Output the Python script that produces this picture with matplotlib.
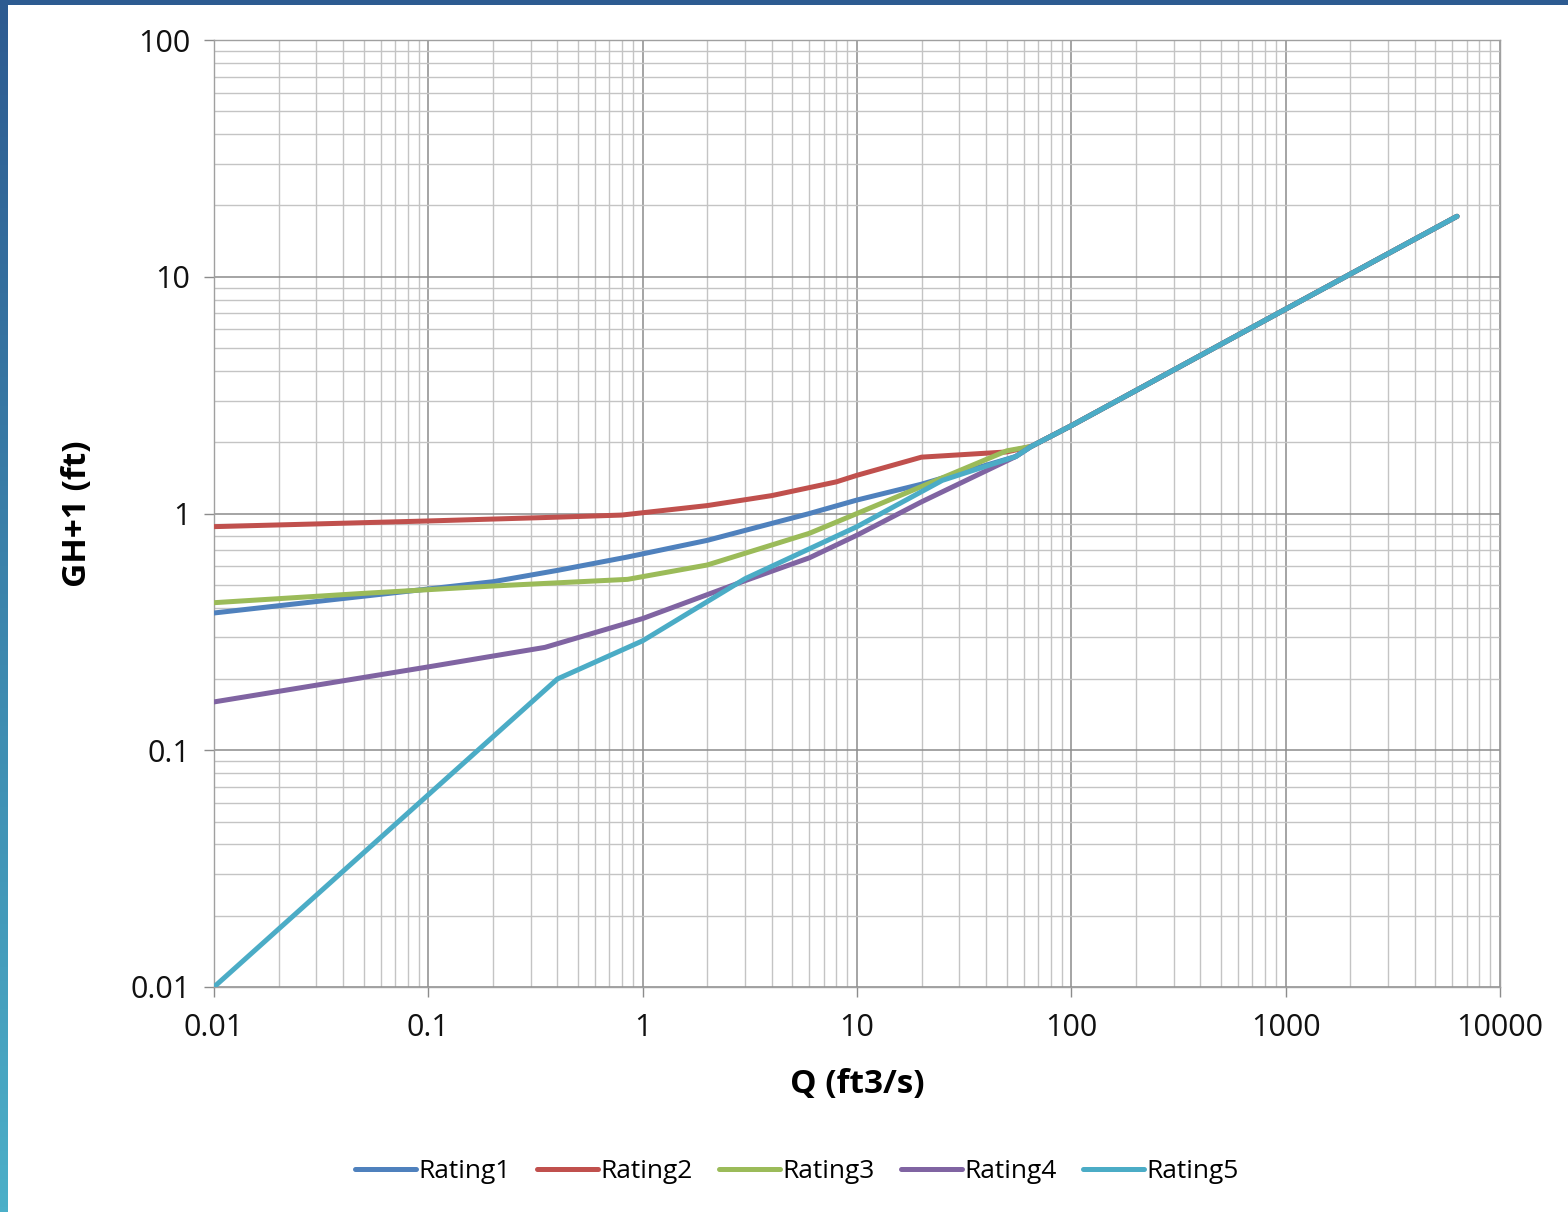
import numpy as np
import matplotlib
matplotlib.use("Agg")
import matplotlib.pyplot as plt
from matplotlib.patches import Rectangle
from matplotlib.colors import LinearSegmentedColormap
from matplotlib.ticker import FixedLocator, LogLocator, NullFormatter

plt.rcParams['font.family'] = ['Open Sans', 'DejaVu Sans']

# rating curves (Q in ft3/s, GH+1 in ft)
q_r1 = [0.01, 0.1, 0.2, 0.4, 0.85, 2, 6, 10, 20, 55, 65]
h_r1 = [0.38, 0.48, 0.515, 0.575, 0.655, 0.77, 1.0, 1.14, 1.33, 1.74, 1.92]

q_r2 = [0.01, 0.1, 0.4, 0.8, 2, 4, 8, 10, 20, 50, 65]
h_r2 = [0.88, 0.93, 0.965, 0.985, 1.08, 1.19, 1.36, 1.45, 1.73, 1.82, 1.92]

q_r3 = [0.01, 0.05, 0.2, 0.85, 2, 4, 6, 10, 20, 50, 65]
h_r3 = [0.42, 0.46, 0.494, 0.527, 0.606, 0.736, 0.825, 1.0, 1.3, 1.84, 1.92]

q_r4 = [0.01, 0.1, 0.35, 1, 3, 6, 10, 20, 55, 65]
h_r4 = [0.16, 0.225, 0.272, 0.36, 0.52, 0.65, 0.81, 1.12, 1.74, 1.92]

q_r5 = [0.01, 0.4, 1, 3, 10, 25, 55, 65]
h_r5 = [0.01, 0.2, 0.29, 0.53, 0.88, 1.38, 1.74, 1.92]

# shared upper segment
q_top = [65, 100, 1000, 6300]
h_top = [1.92, 2.35, 7.3, 18]

names = ["Rating1", "Rating2", "Rating3", "Rating4", "Rating5"]
colors = ["#4F81BD", "#C0504D", "#9BBB59", "#8064A2", "#4BACC6"]
x_ticks = [0.01, 0.1, 1, 10, 100, 1000, 10000]
x_labels = ["0.01", "0.1", "1", "10", "100", "1000", "10000"]
y_ticks = [0.01, 0.1, 1, 10, 100]
y_labels = ["0.01", "0.1", "1", "10", "100"]

fig = plt.figure(figsize=(15.68, 12.12), dpi=100)

# frame decorations (slide border)
fig.patches.append(Rectangle((0, 1 - 5 / 1212), 1, 5 / 1212, transform=fig.transFigure,
                             facecolor="#2D5B91", edgecolor="none", zorder=0))
band = fig.add_axes([0, 0, 8 / 1568, 1 - 5 / 1212])
grad = np.linspace(0, 1, 256).reshape(-1, 1)
cmap = LinearSegmentedColormap.from_list("band", ["#2D5B91", "#4BAFC8"])
band.imshow(grad, aspect="auto", cmap=cmap)
band.axis("off")

ax = fig.add_axes([214 / 1568, 1 - 987 / 1212, (1500 - 214) / 1568, (987 - 40) / 1212])

curves = [(q_r1, h_r1), (q_r2, h_r2), (q_r3, h_r3), (q_r4, h_r4), (q_r5, h_r5)]
for (q, h), name, c in zip(curves, names, colors):
    ax.plot(q + q_top[1:], h + h_top[1:], color=c, lw=3.6, label=name,
            solid_capstyle="round", solid_joinstyle="round", zorder=3)

ax.set_xscale("log")
ax.set_yscale("log")
ax.set_xlim(0.01, 10000)
ax.set_ylim(0.01, 100)

ax.xaxis.set_major_locator(FixedLocator(x_ticks))
ax.set_xticklabels(x_labels)
ax.yaxis.set_major_locator(FixedLocator(y_ticks))
ax.set_yticklabels(y_labels)
ax.xaxis.set_minor_locator(LogLocator(base=10, subs=np.arange(2, 10), numticks=20))
ax.yaxis.set_minor_locator(LogLocator(base=10, subs=np.arange(2, 10), numticks=20))
ax.xaxis.set_minor_formatter(NullFormatter())
ax.yaxis.set_minor_formatter(NullFormatter())

ax.grid(which="major", color="#8C8C8C", lw=1.1, zorder=0)
ax.grid(which="minor", color="#C4C4C4", lw=1.0, zorder=0)
ax.set_axisbelow(True)

ax.tick_params(which="major", direction="out", length=7, width=1, color="#8C8C8C",
               labelsize=22, labelcolor="#111111")
ax.tick_params(axis="x", which="major", pad=12)
ax.tick_params(axis="y", which="major", pad=10)
ax.tick_params(which="minor", length=0)
for s in ax.spines.values():
    s.set_color("#A0A0A0")
    s.set_linewidth(1)

ax.set_xlabel("Q (ft3/s)", fontsize=24, fontweight="bold", labelpad=18)
ax.set_ylabel("GH+1 (ft)", fontsize=24, fontweight="bold", labelpad=26)

ax.legend(loc="center", bbox_to_anchor=(797 / 1568, 1 - 1172 / 1212), bbox_transform=fig.transFigure,
          ncol=5, frameon=False, fontsize=19, handlelength=2.3, handletextpad=0.1,
          columnspacing=1.0)

fig.savefig("out.png", dpi=100)
